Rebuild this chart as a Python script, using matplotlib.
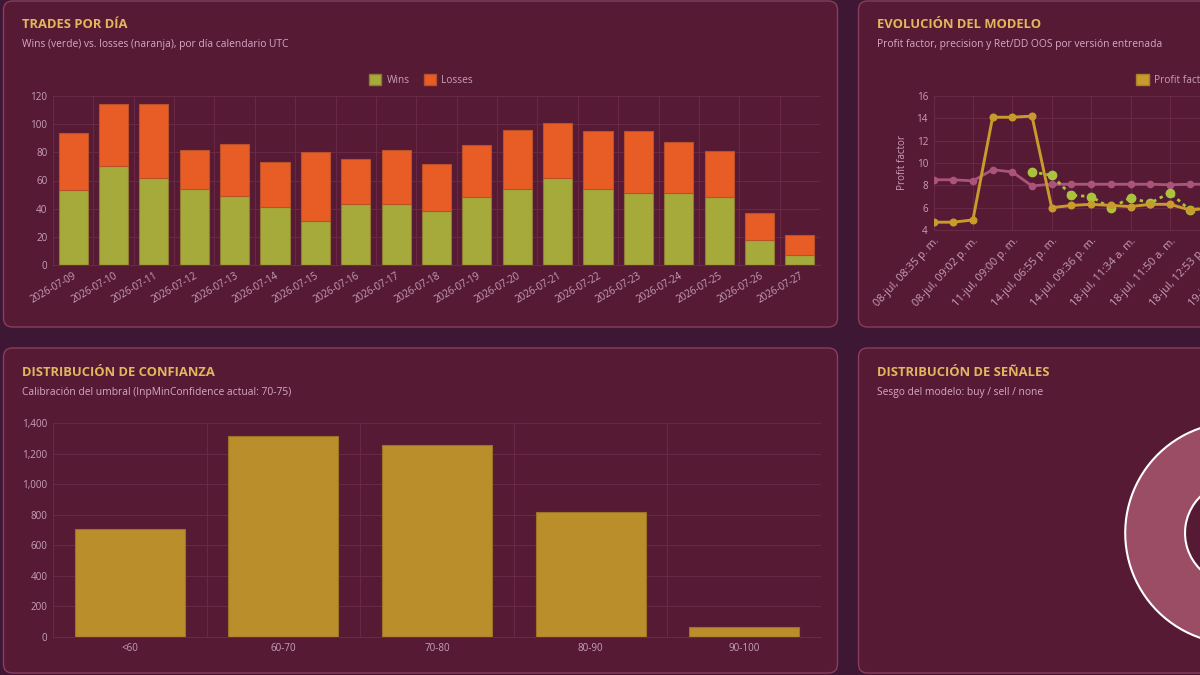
import matplotlib
matplotlib.use("Agg")
import matplotlib.pyplot as plt
import numpy as np
from matplotlib.patches import FancyBboxPatch, Patch
import matplotlib.ticker as mticker

# ---------------- data ----------------
days = ["2026-07-09", "2026-07-10", "2026-07-11", "2026-07-12", "2026-07-13",
        "2026-07-14", "2026-07-15", "2026-07-16", "2026-07-17", "2026-07-18",
        "2026-07-19", "2026-07-20", "2026-07-21", "2026-07-22", "2026-07-23",
        "2026-07-24", "2026-07-25", "2026-07-26", "2026-07-27"]
wins = [53, 70, 62, 54, 49, 41, 31, 43, 43, 38, 48, 54, 62, 54, 51, 51, 48, 18, 7]
losses = [41, 44, 52, 28, 37, 32, 49, 32, 39, 34, 37, 42, 39, 41, 44, 36, 33, 19, 14]

version_tick_labels = ["08-jul, 08:35 p. m.", "08-jul, 09:02 p. m.", "11-jul, 09:00 p. m.",
                       "14-jul, 06:55 p. m.", "14-jul, 09:36 p. m.", "18-jul, 11:34 a. m.",
                       "18-jul, 11:50 a. m.", "18-jul, 12:53 p. m.", "19-jul, 10:12 a. m."]
profit_factor = [4.7, 4.7, 4.9, 14.1, 14.1, 14.2, 6.0, 6.2, 6.3, 6.2, 6.1, 6.3, 6.3, 5.8, 5.95, 6.0, 6.1]
precision = [8.5, 8.5, 8.4, 9.4, 9.2, 7.95, 8.1, 8.1, 8.1, 8.1, 8.1, 8.1, 8.05, 8.1, 8.1, 8.1, 8.1]
ret_dd = [np.nan, np.nan, np.nan, np.nan, np.nan, 9.2, 8.9, 7.1, 7.0, 5.95, 6.9, 6.4, 7.35, 5.8, 6.0, 6.2, 6.1]
evo_legend = ["Profit factor", "Precision", "Ret/DD OOS"]

conf_bins = ["<60", "60-70", "70-80", "80-90", "90-100"]
conf_counts = [705, 1313, 1256, 815, 68]

signal_labels = ["buy", "sell", "none"]
signal_counts = [700, 560, 1900]

# ---------------- style ----------------
W, H = 1200, 675
BG = "#3d1733"
PANEL = "#561a35"
BORDER = "#8a3d5e"
GRID = "#6a2947"
TITLE_C = "#e3b65e"
SUB_C = "#d9a9c4"
TICK_C = "#c9a0b7"
WIN_C = "#a6aa3a"
LOSS_C = "#e85d26"
GOLD = "#c89b2c"
PINK = "#ab5479"
GREEN = "#a9c43c"
BAR_GOLD = "#bb8e2c"
DONUT = ["#a6aa3a", "#e85d26", "#9b4d66"]
FONT = "Open Sans"
TS = 7.1

plt.rcParams["font.family"] = [FONT, "DejaVu Sans"]

fig = plt.figure(figsize=(12, 6.75), dpi=100)
fig.patch.set_facecolor(BG)

bg = fig.add_axes([0, 0, 1, 1])
bg.set_xlim(0, W)
bg.set_ylim(H, 0)
bg.axis("off")
bg.set_zorder(-5)


def panel(x, y, w, h):
    p = FancyBboxPatch((x, y), w, h, boxstyle="round,pad=0,rounding_size=9",
                       facecolor=PANEL, edgecolor=BORDER, linewidth=1.0)
    bg.add_patch(p)


def header(x, y, title, sub):
    bg.text(x, y, title, color=TITLE_C, fontsize=9.4, fontweight="bold",
            va="center", ha="left")
    bg.text(x, y + 19, sub, color=SUB_C, fontsize=7.35, va="center", ha="left")


panel(3.5, 1, 834, 326)
panel(858.5, 1, 834, 326)
panel(3.5, 348, 834, 325)
panel(858.5, 348, 834, 325)

header(22, 25, "TRADES POR DÍA", "Wins (verde) vs. losses (naranja), por día calendario UTC")
header(877, 25, "EVOLUCIÓN DEL MODELO", "Profit factor, precision y Ret/DD OOS por versión entrenada")
header(22, 373, "DISTRIBUCIÓN DE CONFIANZA", "Calibración del umbral (InpMinConfidence actual: 70-75)")
header(877, 373, "DISTRIBUCIÓN DE SEÑALES", "Sesgo del modelo: buy / sell / none")


def px_axes(x0, y0, x1, y1):
    return fig.add_axes([x0 / W, 1 - y1 / H, (x1 - x0) / W, (y1 - y0) / H])


def style_axes(ax):
    ax.set_facecolor("none")
    for s in ["top", "right"]:
        ax.spines[s].set_visible(False)
    for s in ["left", "bottom"]:
        ax.spines[s].set_color(GRID)
        ax.spines[s].set_linewidth(0.8)
    ax.tick_params(length=0, colors=TICK_C, labelsize=TS, pad=4)
    ax.grid(True, color=GRID, linewidth=0.7)
    ax.set_axisbelow(True)


# ---------------- chart 1: trades per day ----------------
ax1 = px_axes(53, 96, 820, 265)
style_axes(ax1)
x = np.arange(len(days))
ax1.bar(x, wins, width=0.72, color=WIN_C, edgecolor="#8f7a34", linewidth=0.8, label="Wins")
ax1.bar(x, losses, bottom=wins, width=0.72, color=LOSS_C, edgecolor="#b8502a", linewidth=0.8, label="Losses")
ax1.set_xlim(-0.5, len(days) - 0.5)
ax1.set_ylim(0, 120)
ax1.yaxis.set_major_locator(mticker.MultipleLocator(20))
ax1.set_xticks(x)
ax1.set_xticklabels(days, rotation=30, ha="right", va="top", rotation_mode="anchor")
ax1.xaxis.set_minor_locator(mticker.FixedLocator(np.arange(-0.5, len(days), 1)))
ax1.grid(False, axis="x", which="major")
ax1.grid(True, axis="x", which="minor", color=GRID, linewidth=0.7)
ax1.tick_params(which="minor", length=0)
ax1.legend(handles=[Patch(facecolor=WIN_C, edgecolor="#8f7a34", label="Wins"),
                    Patch(facecolor=LOSS_C, edgecolor="#b8502a", label="Losses")],
           loc="center", bbox_to_anchor=(421 / W, 1 - 80 / H), bbox_transform=fig.transFigure,
           ncol=2, frameon=False, fontsize=7.3, labelcolor=TICK_C,
           handlelength=1.2, handleheight=1.2, handletextpad=0.5, columnspacing=1.4)

# ---------------- chart 2: model evolution ----------------
n = len(profit_factor)
step = 19.7
ax2 = px_axes(933.5, 96, 933.5 + step * (n - 1), 230)
style_axes(ax2)
xi = np.arange(n)
ax2.plot(xi, precision, color=PINK, lw=2.0, marker="o", ms=4.5, zorder=3)
ax2.plot(xi, ret_dd, color=GREEN, lw=2.0, ls=(0, (1.2, 1.4)), marker="o", ms=6, zorder=4)
ax2.plot(xi, profit_factor, color=GOLD, lw=2.1, marker="o", ms=4.8, zorder=5)
ax2.set_xlim(0, n - 1)
ax2.set_ylim(4, 16)
ax2.yaxis.set_major_locator(mticker.MultipleLocator(2))
ax2.set_xticks(xi[::2])
ax2.set_xticklabels(version_tick_labels[: len(xi[::2])], rotation=47, ha="right", va="top",
                    rotation_mode="anchor", fontsize=7.9)
ax2.set_ylabel("Profit factor", color=TICK_C, fontsize=TS, labelpad=6)
ax2.legend(handles=[Patch(facecolor=GOLD, edgecolor="#a8822a", label=evo_legend[0]),
                    Patch(facecolor=PINK, edgecolor=PINK, label=evo_legend[1]),
                    Patch(facecolor=GREEN, edgecolor=GREEN, label=evo_legend[2])],
           loc="center left", bbox_to_anchor=(1127 / W, 1 - 80 / H), bbox_transform=fig.transFigure,
           ncol=3, frameon=False, fontsize=7.3, labelcolor=TICK_C,
           handlelength=1.3, handleheight=1.3, handletextpad=0.5, columnspacing=1.4)

# ---------------- chart 3: confidence distribution ----------------
ax3 = px_axes(53, 423, 821, 637)
style_axes(ax3)
xc = np.arange(len(conf_bins))
ax3.bar(xc, conf_counts, width=0.716, color=BAR_GOLD, edgecolor="#9c7426", linewidth=0.8)
ax3.set_xlim(-0.5, len(conf_bins) - 0.5)
ax3.set_ylim(0, 1400)
ax3.yaxis.set_major_locator(mticker.MultipleLocator(200))
ax3.yaxis.set_major_formatter(mticker.FuncFormatter(lambda v, p: f"{int(v):,}"))
ax3.set_xticks(xc)
ax3.set_xticklabels(conf_bins)
ax3.xaxis.set_minor_locator(mticker.FixedLocator(np.arange(-0.5, len(conf_bins), 1)))
ax3.grid(False, axis="x", which="major")
ax3.grid(True, axis="x", which="minor", color=GRID, linewidth=0.7)
ax3.tick_params(which="minor", length=0)

# ---------------- chart 4: signal donut ----------------
R = 113
ax4 = px_axes(1236 - R, 533 - R, 1236 + R, 533 + R)
ax4.set_facecolor("none")
ax4.pie(signal_counts, colors=DONUT, startangle=90, counterclock=False, radius=1,
        wedgeprops=dict(width=61 / 113, edgecolor="white", linewidth=1.5))
ax4.set_xlim(-1.02, 1.02)
ax4.set_ylim(-1.02, 1.02)
ax4.set_aspect("equal")
ax4.axis("off")

fig.savefig("out.png", dpi=100, facecolor=BG)
